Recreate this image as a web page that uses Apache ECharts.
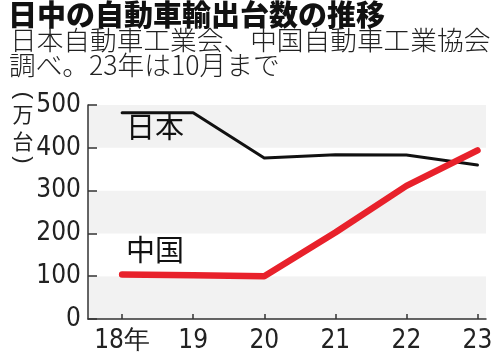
<!DOCTYPE html>
<html><head><meta charset="utf-8">
<script src="https://cdn.jsdelivr.net/npm/echarts@6/dist/echarts.min.js"></script>
<style>html,body{margin:0;padding:0;background:#fff}#c{width:500px;height:354px}</style>
</head><body><div id="c"></div>
<script>
const years = [2018, 2019, 2020, 2021, 2022, 2023];
const yearLabels = ['18年', '19', '20', '21', '22', '23'];
const japan = [482, 482, 376, 384, 383, 360];
const china = [104, 102, 100, 202, 311, 394];
const yMin = 0, yMax = 500, yStep = 100;
const titleText = '日中の自動車輸出台数の推移';
const subLine1 = '日本自動車工業会、中国自動車工業協会';
const subLine2 = '調べ。23年は10月まで';
const unitChars = ['(', '万', '台', ')'];
const nameJapan = '日本', nameChina = '中国';

const numFont = '"Liberation Sans Narrow", "DejaVu Sans Condensed", "Liberation Sans", Arial, sans-serif';
const jpFont = '"Noto Sans CJK JP", sans-serif';
const unitPos = [95.5, 114, 141, 160];
const unitGraphics = unitChars.map((ch, i) => ({
  type: 'text', z: 100, x: 23, y: unitPos[i],
  rotation: (i === 0 || i === 3) ? -Math.PI / 2 : 0,
  style: {text: ch, font: (i === 0 || i === 3) ? '22px "Liberation Sans", sans-serif' : '21px ' + jpFont,
    fill: '#222', align: 'center', verticalAlign: 'middle'}
}));

const chart = echarts.init(document.getElementById('c'), null, {renderer: 'canvas'});
chart.setOption({
  animation: false,
  backgroundColor: '#fff',
  grid: {left: 88, top: 105, right: 14, bottom: 34, containLabel: false},
  xAxis: {
    type: 'value', min: 2017.52, max: 2023.12,
    axisLine: {show: true, lineStyle: {color: '#333', width: 1.5}},
    axisTick: {show: true, inside: true, length: 5, customValues: years, lineStyle: {color: '#333', width: 1.5}},
    axisLabel: {customValues: years, formatter: v => yearLabels[years.indexOf(Math.round(v))], color: '#222', fontSize: 26, fontFamily: numFont, margin: 9},
    splitLine: {show: false}
  },
  yAxis: {
    type: 'value', min: yMin, max: yMax, interval: yStep,
    axisLine: {show: true, lineStyle: {color: '#333', width: 1.5}},
    axisTick: {show: true, inside: true, length: 9, lineStyle: {color: '#333', width: 1.5}},
    axisLabel: {color: '#222', fontSize: 26, fontFamily: numFont, margin: 7},
    splitLine: {show: false},
    splitArea: {show: true, areaStyle: {color: ['#f2f2f2', '#ffffff']}}
  },
  series: [
    {type: 'line', data: years.map((y, i) => [y, japan[i]]), symbol: 'none',
     lineStyle: {color: '#111', width: 3, cap: 'round', join: 'round'}, z: 3},
    {type: 'line', data: years.map((y, i) => [y, china[i]]), symbol: 'none',
     lineStyle: {color: '#e8212b', width: 6.5, cap: 'round', join: 'round'}, z: 4}
  ],
  graphic: [
    {type: 'text', z: 100, left: 8, top: 0, style: {text: titleText, font: '900 29px ' + jpFont, fill: '#111'}},
    {type: 'text', z: 100, left: 10, top: 27, style: {text: subLine1, font: '300 26.7px ' + jpFont, fill: '#222'}},
    {type: 'text', z: 100, left: 9, top: 52, style: {text: subLine2, font: '300 26.7px ' + jpFont, fill: '#222'}},
    ...unitGraphics,
    {type: 'text', z: 100, left: 126, top: 112, style: {text: nameJapan, font: '29px ' + jpFont, fill: '#111'}},
    {type: 'text', z: 100, left: 126, top: 235, style: {text: nameChina, font: '29px ' + jpFont, fill: '#111'}}
  ]
});
</script></body></html>
